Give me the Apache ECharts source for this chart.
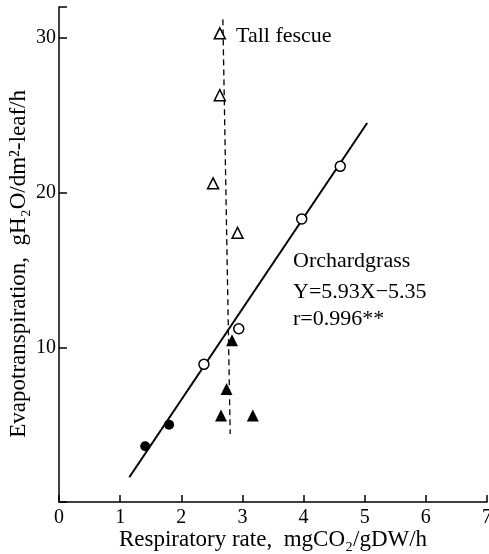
<!DOCTYPE html>
<html>
<head>
<meta charset="utf-8">
<script src="https://cdn.jsdelivr.net/npm/echarts@6/dist/echarts.min.js"></script>
<style>
html, body { margin: 0; padding: 0; background: #fff; }
#main { width: 489px; height: 554px; }
</style>
</head>
<body>
<div id="main"></div>
<script>
// values
var orchardOpen = [[2.37, 8.9], [2.94, 11.2], [3.97, 18.3], [4.60, 21.7]];
var orchardFilled = [[1.41, 3.6], [1.80, 5.0]];
var fescueOpen = [[2.63, 30.3], [2.63, 26.3], [2.52, 20.6], [2.92, 17.4]];
var fescueFilled = [[2.83, 10.45], [2.74, 7.3], [2.65, 5.6], [3.17, 5.6]];
var orchardLine = [[1.15, 1.6], [5.04, 24.5]];
var fescueLine = [[2.68, 31.2], [2.80, 4.4]];
var xTicks = [0, 1, 2, 3, 4, 5, 6, 7];
var yTicks = [10, 20, 30];

var serif = 'Liberation Serif, DejaVu Serif, serif';
var dom = document.getElementById('main');
var myChart = echarts.init(dom);

var option = {
    animation: false,
    grid: { left: 59, right: 2, top: 7, bottom: 52, outerBoundsMode: 'none' },
    xAxis: {
        type: 'value',
        min: 0,
        max: 7,
        interval: 1,
        splitLine: { show: false },
        axisLine: { lineStyle: { color: '#000', width: 1.5 } },
        axisTick: { inside: true, length: 7, lineStyle: { color: '#000', width: 1.5 } },
        axisLabel: {
            color: '#000', fontFamily: serif, fontSize: 20, margin: 6,
            formatter: function (v) { return xTicks.indexOf(v) >= 0 ? String(v) : ''; }
        },
        name: 'Respiratory rate,  mgCO₂/gDW/h',
        nameLocation: 'middle',
        nameGap: 26,
        nameMoveOverlap: false,
        nameTextStyle: { color: '#000', fontFamily: serif, fontSize: 23 }
    },
    yAxis: {
        type: 'value',
        min: 0,
        max: 32,
        interval: 10,
        splitLine: { show: false },
        axisLine: { lineStyle: { color: '#000', width: 1.5 } },
        axisTick: { inside: true, length: 8, lineStyle: { color: '#000', width: 1.5 } },
        axisLabel: {
            color: '#000', fontFamily: serif, fontSize: 20, margin: 3,
            formatter: function (v) { return yTicks.indexOf(v) >= 0 ? String(v) : ''; }
        }
    },
    graphic: [
        {
            type: 'text', left: 7, top: 90,
            rotation: Math.PI / 2,
            style: { text: 'Evapotranspiration,  gH₂O/dm²-leaf/h', fill: '#000', font: '23px ' + serif }
        },
        { type: 'text', left: 236, top: 25, style: { text: 'Tall fescue', fill: '#000', font: '22px ' + serif } },
        { type: 'text', left: 293, top: 250, style: { text: 'Orchardgrass', fill: '#000', font: '22px ' + serif } },
        { type: 'text', left: 293, top: 281, style: { text: 'Y=5.93X−5.35', fill: '#000', font: '22px ' + serif } },
        { type: 'text', left: 293, top: 308, style: { text: 'r=0.996**', fill: '#000', font: '22px ' + serif } }
    ],
    series: [
        {
            type: 'line', data: orchardLine, symbol: 'none',
            lineStyle: { color: '#000', width: 2 }, z: 1
        },
        {
            type: 'line', data: fescueLine, symbol: 'none',
            lineStyle: { color: '#000', width: 1.3, type: [6, 4] }, z: 1
        },
        {
            type: 'scatter', data: orchardOpen, symbol: 'circle', symbolSize: 10,
            itemStyle: { color: '#fff', borderColor: '#000', borderWidth: 1.5, opacity: 1 }, z: 3
        },
        {
            type: 'scatter', data: orchardFilled, symbol: 'circle', symbolSize: 10,
            itemStyle: { color: '#000', opacity: 1 }, z: 3
        },
        {
            type: 'scatter', data: fescueOpen, symbol: 'triangle', symbolSize: 11,
            itemStyle: { color: '#fff', borderColor: '#000', borderWidth: 1.5, opacity: 1 }, z: 3
        },
        {
            type: 'scatter', data: fescueFilled, symbol: 'triangle', symbolSize: 12,
            itemStyle: { color: '#000', opacity: 1 }, z: 3
        }
    ]
};
myChart.setOption(option);
</script>
</body>
</html>
